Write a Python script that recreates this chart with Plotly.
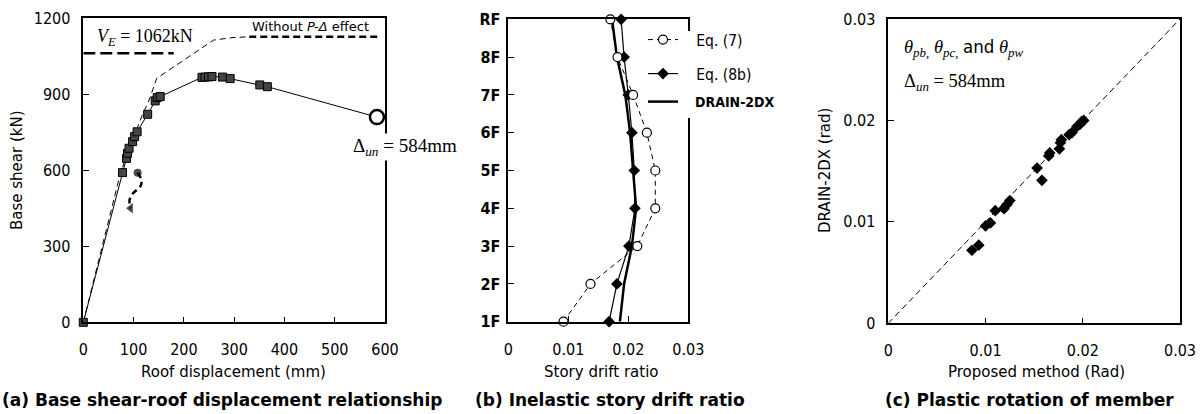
import plotly.graph_objects as go

# ---------------- data ----------------
# (a) base shear - roof displacement
a_disp = [0, 78, 86, 88, 91, 98, 102, 107, 128, 143, 147, 153, 236, 242, 249, 256, 277, 292, 351, 366]
a_shear = [0, 591, 647, 667, 687, 713, 733, 752, 821, 874, 887, 891, 967, 968, 969, 970, 968, 962, 937, 930]
un_disp = [584]
un_shear = [810]
pd_disp = [0, 74, 98, 118, 131, 146, 259, 298, 330]
pd_shear = [0, 590, 720, 821, 877, 963, 1114, 1124, 1127]
nopd_disp = [330, 585]
nopd_shear = [1127, 1127]
ve_disp = [0, 180]
ve_shear = [1062, 1062]
drop_disp = [108, 116, 113, 99, 92, 94]
drop_shear = [590, 559, 535, 509, 483, 450]

# (b) story drift ratio
levels = ["1F", "2F", "3F", "4F", "5F", "6F", "7F", "8F", "RF"]
eq7 = [0.0092, 0.0137, 0.0215, 0.0245, 0.0245, 0.0231, 0.0208, 0.0182, 0.0170]
eq8b = [0.0168, 0.0181, 0.0201, 0.0211, 0.0210, 0.0206, 0.0200, 0.0193, 0.0188]
drain = [0.0186, 0.0193, 0.0206, 0.0213, 0.0208, 0.0203, 0.0195, 0.0181, 0.0173]

# (c) plastic rotation
proposed = [0.0201, 0.0199, 0.0197, 0.0194, 0.0189, 0.0186, 0.0178, 0.0177, 0.0176, 0.0166, 0.0165,
            0.0153, 0.0158, 0.0125, 0.0122, 0.0119, 0.0110, 0.0105, 0.0100, 0.0093, 0.0086]
drain_rot = [0.0200, 0.0199, 0.0196, 0.0194, 0.0188, 0.0186, 0.0181, 0.0178, 0.0172, 0.0168, 0.0165,
             0.0153, 0.0141, 0.0121, 0.0117, 0.0113, 0.0111, 0.0099, 0.0096, 0.0077, 0.0072]
diag = [0, 0.03]

a_xticks = [0, 100, 200, 300, 400, 500, 600]
a_yticks = [0, 300, 600, 900, 1200]
r_ticks = [0, 0.01, 0.02, 0.03]
r_ticktext = ["0", "0.01", "0.02", "0.03"]

# ---------------- layout helpers ----------------
W, H = 1203, 414
SANS = "DejaVu Sans"
COND = "DejaVu Sans Condensed"
SERIF = "Liberation Serif"
NB = "\u00a0\u00a0\u00a0"


def px(x):
    return x / W


def py(y):
    return 1 - y / H


fig = go.Figure()

# ---- (a) ----
fig.add_trace(go.Scatter(x=pd_disp, y=pd_shear, mode="lines", xaxis="x", yaxis="y",
                         line=dict(color="black", width=1, dash="6px,4px"), showlegend=False))
fig.add_trace(go.Scatter(x=nopd_disp, y=nopd_shear, mode="lines", xaxis="x", yaxis="y",
                         line=dict(color="black", width=2.5, dash="7px,4px"), showlegend=False))
fig.add_trace(go.Scatter(x=ve_disp, y=ve_shear, mode="lines", xaxis="x", yaxis="y",
                         line=dict(color="black", width=2.5, dash="12px,5px"), showlegend=False))
fig.add_trace(go.Scatter(x=a_disp + un_disp, y=a_shear + un_shear, mode="lines", xaxis="x", yaxis="y",
                         line=dict(color="black", width=1), showlegend=False))
fig.add_trace(go.Scatter(x=a_disp, y=a_shear, mode="markers", xaxis="x", yaxis="y", cliponaxis=False,
                         marker=dict(symbol="square", size=8, color="#444444",
                                     line=dict(color="black", width=1)), showlegend=False))
fig.add_trace(go.Scatter(x=un_disp, y=un_shear, mode="markers", xaxis="x", yaxis="y", cliponaxis=False,
                         marker=dict(symbol="circle", size=14, color="white",
                                     line=dict(color="black", width=2.5)), showlegend=False))
fig.add_trace(go.Scatter(x=drop_disp, y=drop_shear, mode="lines+markers", xaxis="x", yaxis="y",
                         line=dict(color="black", width=2.5, dash="6px,4px", shape="spline"),
                         marker=dict(symbol=["circle", "circle", "circle", "circle", "circle", "triangle-left"],
                                     size=[8, 0, 0, 0, 0, 9], color="black", line=dict(width=0)),
                         showlegend=False))

# ---- (b) ----
fig.add_trace(go.Scatter(x=drain, y=levels, mode="lines", xaxis="x2", yaxis="y2",
                         name=NB + "<b>DRAIN-2DX</b>",
                         line=dict(color="black", width=2.5), legend="legend3"))
fig.add_trace(go.Scatter(x=eq8b, y=levels, mode="lines+markers", xaxis="x2", yaxis="y2", name=NB + "Eq. (8b)",
                         cliponaxis=False, line=dict(color="black", width=1.2),
                         marker=dict(symbol="diamond", size=9, color="black"), legend="legend2"))
fig.add_trace(go.Scatter(x=eq7, y=levels, mode="lines+markers", xaxis="x2", yaxis="y2", name=NB + "Eq. (7)",
                         cliponaxis=False, line=dict(color="black", width=1, dash="5px,4px"),
                         marker=dict(symbol="circle", size=9, color="white",
                                     line=dict(color="black", width=1.2)), legend="legend"))

# ---- (c) ----
fig.add_trace(go.Scatter(x=diag, y=diag, mode="lines", xaxis="x3", yaxis="y3",
                         line=dict(color="black", width=1, dash="6px,4px"), showlegend=False))
fig.add_trace(go.Scatter(x=proposed, y=drain_rot, mode="markers", xaxis="x3", yaxis="y3",
                         marker=dict(symbol="diamond", size=9, color="black"), showlegend=False))

axis_common = dict(showline=True, linecolor="black", linewidth=1.5, mirror=True, ticks="inside",
                   ticklen=6, tickcolor="black", tickwidth=1.2, showgrid=False, zeroline=False,
                   automargin=False, tickfont=dict(family=COND, size=16, color="black"))

leg_common = dict(xanchor="left", yanchor="middle", bgcolor="rgba(0,0,0,0)")

fig.update_layout(
    width=W, height=H, margin=dict(l=0, r=0, t=0, b=0, pad=0, autoexpand=False),
    paper_bgcolor="white", plot_bgcolor="white",
    xaxis=dict(domain=[px(83.3), px(385)], range=[0, 600], tickvals=a_xticks, anchor="y",
               ticklabelstandoff=12, **axis_common),
    yaxis=dict(domain=[py(322.3), py(18.3)], range=[0, 1200], tickvals=a_yticks, anchor="x",
               ticklabelstandoff=8, **axis_common),
    xaxis2=dict(domain=[px(508.3), px(688.3)], range=[0, 0.03], tickvals=r_ticks, ticktext=r_ticktext,
                anchor="y2", ticklabelstandoff=12, **axis_common),
    yaxis2=dict(domain=[py(321.7), py(19.3)], type="category", categoryorder="array",
                categoryarray=levels, range=[0, 8], anchor="x2", ticklabelstandoff=3,
                **{k: v for k, v in axis_common.items() if k != "tickfont"},
                tickfont=dict(family=COND, size=16, color="black", weight="bold")),
    xaxis3=dict(domain=[px(888.3), px(1180)], range=[0, 0.03], tickvals=r_ticks, ticktext=r_ticktext,
                anchor="y3", ticklabelstandoff=12, **axis_common),
    yaxis3=dict(domain=[py(323.3), py(19)], range=[0, 0.03], tickvals=r_ticks, ticktext=r_ticktext,
                anchor="x3", ticklabelstandoff=8, **axis_common),
    legend=dict(x=px(643), y=py(40), font=dict(family=COND, size=15.5, color="black"), **leg_common),
    legend2=dict(x=px(643), y=py(74), font=dict(family=COND, size=15.5, color="black"), **leg_common),
    legend3=dict(x=px(643), y=py(102), font=dict(family=COND, size=14, color="black"), **leg_common),
    shapes=[dict(type="rect", xref="paper", yref="paper", x0=px(644), x1=px(775), y0=py(118), y1=py(31),
                 fillcolor="white", line=dict(width=0), layer="above")],
)

ann = []


def add_text(x, y, text, size=15, family=SANS, angle=0, bg=None, xanchor="center"):
    d = dict(x=px(x), y=py(y), xref="paper", yref="paper", text=text, showarrow=False,
             xanchor=xanchor, yanchor="middle", textangle=angle,
             font=dict(family=family, size=size, color="black"))
    if bg:
        d["bgcolor"] = bg
    ann.append(d)


# axis titles
add_text(17, 170, "Base shear (kN)", angle=-90)
add_text(233, 372, "Roof displacement (mm)")
add_text(601, 372, "Story drift ratio")
add_text(825, 171, "DRAIN-2DX (rad)", angle=-90)
add_text(1036, 372, "Proposed method (Rad)")
# captions
add_text(222, 400, "<b>(a) Base shear-roof displacement relationship</b>", size=17)
add_text(610, 400, "<b>(b) Inelastic story drift ratio</b>", size=17)
add_text(1029, 400, "<b>(c) Plastic rotation of member</b>", size=17)
# in-plot texts
add_text(95, 38, "<i>V</i><sub><i>E</i></sub> = 1062kN", size=18, family=SERIF, xanchor="left")
add_text(250, 27, "Without <i>P-Δ</i> effect", size=13, xanchor="left")
add_text(351, 147, "Δ<sub><i>un</i></sub> = 584mm", size=19, family=SERIF, bg="white", xanchor="left")
add_text(902, 48, "<i>θ</i><sub><i>pb,</i></sub> <i>θ</i><sub><i>pc,</i></sub> "
                  "<span style='font-family:DejaVu Sans Condensed'>and</span> <i>θ</i><sub><i>pw</i></sub>",
         size=18.5, family=SERIF, xanchor="left")
add_text(902, 82, "Δ<sub><i>un</i></sub> = 584mm", size=18.5, family=SERIF, xanchor="left")

fig.update_layout(annotations=ann)

fig.write_html("out.html")
